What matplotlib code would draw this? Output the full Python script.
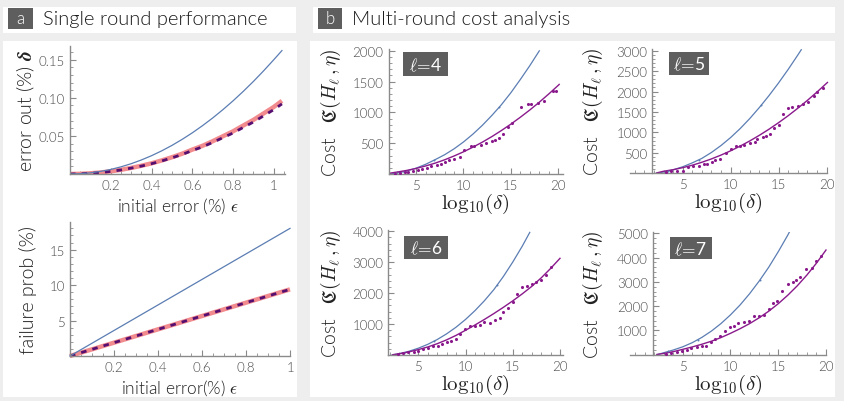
import matplotlib
matplotlib.use("Agg")
import matplotlib.pyplot as plt
from matplotlib.patches import Rectangle
from matplotlib.ticker import MultipleLocator, FixedLocator

plt.rcParams['font.family'] = ['Lato', 'DejaVu Sans']
plt.rcParams['mathtext.fontset'] = 'cm'

W, H = 844, 402
LIGHT = 300

# ---- panel a data ----
eps_top = [0, 0.05, 0.1, 0.15, 0.2, 0.25, 0.3, 0.35, 0.4, 0.45, 0.5, 0.55,
           0.6, 0.65, 0.7, 0.75, 0.8, 0.85, 0.9, 0.95, 1.0, 1.04]
delta_blue = [0, 0.0004, 0.0015, 0.0034, 0.006, 0.0094, 0.0135, 0.0184, 0.024, 0.0304, 0.0375, 0.0454,
              0.054, 0.0634, 0.0735, 0.0844, 0.096, 0.1084, 0.1215, 0.1354, 0.150, 0.162]
delta_red = [0, 0.0002, 0.0009, 0.002, 0.0035, 0.0055, 0.008, 0.0108, 0.014, 0.0178, 0.022, 0.0266,
             0.032, 0.037, 0.043, 0.0495, 0.056, 0.0636, 0.071, 0.0795, 0.088, 0.096]
delta_dash = [0, 0.0002, 0.0009, 0.0019, 0.0034, 0.0053, 0.0077, 0.0104, 0.0135, 0.0171, 0.0212, 0.0256,
              0.0308, 0.0356, 0.0414, 0.0476, 0.0538, 0.0611, 0.0682, 0.0763, 0.0845, 0.092]

eps_bot = [0, 0.5, 1.0]
fail_blue = [0, 9.0, 18.0]
fail_red = [0, 4.7, 9.4]
fail_dash = [0, 4.7, 9.4]

# ---- panel b data ----
levels = [4, 5, 6, 7]
blue_x = {
    4: [2.2, 3, 4, 5, 6, 7, 8, 9, 10, 11, 12, 13, 13.8, 14, 15, 16, 17, 18],
    5: [2.2, 3, 4, 5, 6, 7, 8, 9, 10, 11, 12, 13, 13.2, 14, 15, 16, 17, 17.37],
    6: [2.2, 3, 4, 5, 6, 7, 8, 9, 10, 11, 12, 13, 14, 15, 16, 16.8],
    7: [2.3, 3, 4, 5, 6, 7, 8, 9, 10, 11, 12, 13, 14, 15, 16, 16.3],
}
blue_y = {
    4: [0, 15, 48, 95, 157, 232, 312, 408, 520, 648, 792, 952, 1090, 1125, 1320, 1535, 1760, 2000],
    5: [0, 30, 85, 160, 255, 365, 510, 680, 875, 1095, 1340, 1610, 1667, 1900, 2210, 2540, 2890, 3023],
    6: [0, 45, 120, 220, 345, 500, 685, 900, 1150, 1435, 1755, 2115, 2535, 3005, 3515, 3963],
    7: [0, 80, 192, 325, 496, 712, 972, 1281, 1640, 2046, 2510, 3030, 3600, 4240, 4925, 5150],
}
blue_mark_x = {4: [3.7, 6.9, 13.8], 5: [3.5, 6.7, 13.2], 6: [3.5, 6.65, 13.35], 7: [3.5, 6.6, 13.1]}
blue_mark_y = {4: [38, 225, 1090], 5: [55, 330, 1670], 6: [80, 440, 2270], 7: [140, 620, 3090]}

fit_x = {
    4: [2.3, 3, 4, 5, 6, 7, 8, 9, 10, 11, 12, 13, 14, 15, 16, 17, 18, 19, 20, 20.1],
    5: [2.3, 3, 4, 5, 6, 7, 8, 9, 10, 11, 12, 13, 14, 15, 16, 17, 18, 19, 20, 20.1],
    6: [2.3, 3, 4, 5, 6, 7, 8, 9, 10, 11, 12, 13, 14, 15, 16, 17, 18, 19, 20],
    7: [2.3, 3, 4, 5, 6, 7, 8, 9, 10, 11, 12, 13, 14, 15, 16, 17, 18, 19, 20],
}
fit_y = {
    4: [15, 32, 58, 90, 130, 176, 230, 292, 360, 436, 518, 608, 706, 810, 922, 1040, 1166, 1300, 1440, 1455],
    5: [10, 50, 88, 138, 198, 270, 352, 446, 550, 666, 792, 930, 1078, 1238, 1408, 1590, 1782, 1986, 2200, 2222],
    6: [10, 40, 100, 175, 260, 365, 490, 635, 800, 970, 1150, 1340, 1540, 1750, 1975, 2215, 2490, 2795, 3125],
    7: [10, 50, 125, 220, 320, 430, 555, 705, 880, 1070, 1280, 1520, 1790, 2100, 2450, 2840, 3280, 3770, 4310],
}

pts_x = {
    4: [2.8, 3.3, 3.8, 4.2, 4.7, 5.2, 5.6, 6.1, 6.6, 7.2, 7.6, 8.0, 8.5, 9.0, 9.6, 10.1, 10.8,
        11.1, 11.8, 12.4, 13.0, 13.3, 13.8, 14.2, 14.7, 15.1, 16.1, 16.8, 17.1, 17.9, 18.5, 19.4, 19.8],
    5: [3.3, 3.8, 4.4, 5.0, 5.6, 6.1, 6.7, 7.2, 7.5, 8.1, 8.4, 8.9, 9.5, 10.0, 10.6, 11.0, 11.4,
        12.0, 12.5, 12.8, 13.4, 13.7, 14.1, 14.5, 15.0, 15.5, 16.0, 16.4, 17.0, 17.6, 18.1, 18.7, 19.0, 19.6],
    6: [2.9, 3.4, 3.9, 4.5, 5.0, 5.5, 6.0, 6.6, 7.1, 7.5, 8.0, 8.5, 9.0, 9.4, 9.9, 10.5, 11.0,
        11.5, 12.0, 12.6, 13.1, 13.6, 14.0, 14.5, 15.0, 15.5, 16.0, 16.5, 17.0, 17.5, 18.0, 18.5, 19.0],
    7: [3.3, 3.8, 4.4, 4.9, 5.4, 5.9, 6.5, 7.0, 7.4, 8.0, 8.4, 8.9, 9.4, 9.9, 10.4, 10.8, 11.4,
        11.9, 12.5, 13.0, 13.5, 14.0, 14.5, 14.9, 15.4, 16.0, 16.5, 16.9, 17.3, 17.9, 18.5, 19.0, 19.5],
}
pts_y = {
    4: [5, 10, 25, 35, 55, 60, 80, 100, 125, 150, 160, 190, 220, 240, 280, 395, 450,
        450, 475, 500, 540, 545, 578, 650, 760, 830, 1090, 1130, 1130, 1160, 1190, 1340, 1340],
    5: [25, 55, 65, 65, 145, 170, 190, 220, 230, 285, 335, 350, 500, 595, 660, 675, 700,
        740, 775, 840, 880, 920, 955, 1100, 1180, 1450, 1590, 1615, 1640, 1695, 1735, 1900, 1980, 2080],
    6: [30, 65, 85, 110, 140, 195, 215, 280, 300, 355, 410, 465, 515, 680, 840, 950, 925,
        970, 1055, 1035, 1140, 1185, 1380, 1510, 1700, 1970, 2190, 2240, 2295, 2350, 2435, 2590, 2835],
    7: [30, 70, 95, 165, 205, 260, 300, 360, 370, 535, 645, 755, 990, 1125, 1195, 1305, 1360,
        1400, 1580, 1610, 1635, 1880, 2130, 2225, 2640, 2910, 3010, 3075, 3185, 3530, 3560, 3870, 4080],
}

BLUE = '#5b7db3'
PURPLE = '#8a1a8c'
RED = '#f28b8e'
DARK = '#560f70'
GRAY = '#5e5e5e'
AXC = '#8a8a8a'
TXT = '#4a4a4a'
LABC = '#222222'

fig = plt.figure(figsize=(W / 100, H / 100), dpi=100)
fig.patch.set_facecolor('#eeeeee')


def box(l, t, r, b, color):
    fig.add_artist(Rectangle((l / W, 1 - b / H), (r - l) / W, (b - t) / H,
                             transform=fig.transFigure, facecolor=color,
                             edgecolor='none', zorder=0))


def px_axes(l, t, r, b):
    ax = fig.add_axes([l / W, 1 - b / H, (r - l) / W, (b - t) / H])
    ax.patch.set_alpha(0)
    for s in ['top', 'right']:
        ax.spines[s].set_visible(False)
    for s in ['left', 'bottom']:
        ax.spines[s].set_color(AXC)
        ax.spines[s].set_linewidth(1.0)
    ax.tick_params(which='both', direction='in', colors=AXC, labelcolor=TXT, labelsize=9.5)
    ax.tick_params(which='major', length=4)
    ax.tick_params(which='minor', length=2)
    return ax


def ticks(ax, xt, xl, yt, yl):
    ax.xaxis.set_major_locator(FixedLocator(xt))
    ax.set_xticklabels(xl, fontweight=LIGHT)
    ax.yaxis.set_major_locator(FixedLocator(yt))
    ax.set_yticklabels(yl, fontweight=LIGHT)


# panel backgrounds
box(3, 8, 296, 34, 'white')
box(3, 42, 297, 398, 'white')
box(313, 8, 835, 34, 'white')
box(310, 42, 835, 398, 'white')
box(8, 9, 33, 30, GRAY)
box(318, 9, 342, 30, GRAY)
fig.text(20.5 / W, 1 - 19.5 / H, 'a', color='white', fontsize=12, ha='center', va='center', fontweight=LIGHT)
fig.text(330 / W, 1 - 19.5 / H, 'b', color='white', fontsize=12, ha='center', va='center', fontweight=LIGHT)
fig.text(43 / W, 1 - 20 / H, 'Single round performance', color='#1a1a1a', fontsize=14.5,
         ha='left', va='center', fontweight=LIGHT)
fig.text(352 / W, 1 - 20 / H, 'Multi-round cost analysis', color='#1a1a1a', fontsize=14.5,
         ha='left', va='center', fontweight=LIGHT)

# ---- panel a, top ----
ax = px_axes(70, 47, 285, 175)
ax.plot(eps_top, delta_red, color=RED, lw=3.2, solid_capstyle='butt')
ax.plot(eps_top, delta_dash, color=DARK, lw=2.0, dashes=(2, 2.2))
ax.plot(eps_top, delta_blue, color=BLUE, lw=0.9)
ax.set_xlim(0, 1.055)
ax.set_ylim(0, 0.168)
ticks(ax, [0.2, 0.4, 0.6, 0.8, 1.0], ['0.2', '0.4', '0.6', '0.8', '1'],
      [0.05, 0.10, 0.15], ['0.05', '0.10', '0.15'])
ax.xaxis.set_minor_locator(MultipleLocator(0.05))
ax.yaxis.set_minor_locator(MultipleLocator(0.01))
ax.set_xlabel(r'initial error (%) $\epsilon$', fontsize=12.5, color=LABC, labelpad=3, fontweight=LIGHT)
ax.set_ylabel(r'error out (%) $\boldsymbol{\delta}$', fontsize=14, color=LABC, fontweight=LIGHT)
ax.yaxis.set_label_coords(-0.155, 0.5)

# ---- panel a, bottom ----
ax = px_axes(70, 223, 290, 357)
ax.plot(eps_bot, fail_red, color=RED, lw=3.2, solid_capstyle='butt', clip_on=False)
ax.plot(eps_bot, fail_dash, color=DARK, lw=2.0, dashes=(2, 2.2), clip_on=False)
ax.plot(eps_bot, fail_blue, color=BLUE, lw=0.9, clip_on=False)
ax.set_xlim(0, 1.0)
ax.set_ylim(0, 18.9)
ticks(ax, [0.2, 0.4, 0.6, 0.8, 1.0], ['0.2', '0.4', '0.6', '0.8', '1'],
      [5, 10, 15], ['5', '10', '15'])
ax.xaxis.set_minor_locator(MultipleLocator(0.05))
ax.yaxis.set_minor_locator(MultipleLocator(1))
ax.set_xlabel(r'initial error(%) $\epsilon$', fontsize=12.5, color=LABC, labelpad=3, fontweight=LIGHT)
ax.set_ylabel('failure prob (%)', fontsize=14, color=LABC, fontweight=LIGHT)
ax.yaxis.set_label_coords(-0.15, 0.5)

# ---- panel b ----
layout = {
    4: dict(rect=(388.5, 50, 563, 175), xlim=(2.09, 20.5), ylim=(0, 2030), spine=None,
            ymaj=500, ymin=100, lab=(403, 53, 448, 77), ylx=-0.26),
    5: dict(rect=(629.5, 50, 826.5, 174.3), xlim=(-0.55, 20.0), ylim=(0, 3040), spine=1.8,
            ymaj=500, ymin=100, lab=(669, 53, 709, 76), ylx=-0.125),
    6: dict(rect=(388.3, 231, 563.3, 356), xlim=(1.82, 20.35), ylim=(0, 4040), spine=None,
            ymaj=1000, ymin=200, lab=(404, 237, 448, 260), ylx=-0.26),
    7: dict(rect=(630, 233.3, 826, 355.7), xlim=(-0.52, 20.0), ylim=(0, 5040), spine=1.85,
            ymaj=1000, ymin=200, lab=(670, 238, 712, 260), ylx=-0.128),
}

for lv in levels:
    cfg = layout[lv]
    l, t, r, b = cfg['rect']
    ax = px_axes(l, t, r, b)
    ax.plot(blue_x[lv], blue_y[lv], color=BLUE, lw=0.9)
    ax.scatter(blue_mark_x[lv], blue_mark_y[lv], s=2, color=BLUE, zorder=3, linewidths=0)
    ax.plot(fit_x[lv], fit_y[lv], color=PURPLE, lw=1.0, clip_on=False)
    ax.scatter(pts_x[lv], pts_y[lv], s=5, color=PURPLE, zorder=3, linewidths=0)
    ax.set_xlim(*cfg['xlim'])
    ax.set_ylim(*cfg['ylim'])
    if cfg['spine'] is not None:
        ax.spines['left'].set_position(('data', cfg['spine']))
    yt = list(range(cfg['ymaj'], int(cfg['ylim'][1]) + 1, cfg['ymaj']))
    ticks(ax, [5, 10, 15, 20], ['5', '10', '15', '20'], yt, [str(v) for v in yt])
    ax.xaxis.set_minor_locator(MultipleLocator(1))
    ax.yaxis.set_minor_locator(MultipleLocator(cfg['ymin']))
    ax.set_xlabel(r'$\mathrm{log}_{10}(\delta)$', fontsize=15, color='#222222', labelpad=0)
    ax.set_ylabel(r'Cost   $\mathfrak{C}(H_\ell\,,\eta)$', fontsize=14, color=LABC, fontweight=LIGHT)
    ax.yaxis.set_label_coords(cfg['ylx'], 0.5)
    # level tag
    bl, bt, br, bb = cfg['lab']
    box(bl, bt, br, bb, GRAY)
    fig.text((bl + br) / 2 / W, 1 - (bt + bb) / 2 / H, r'$\ell\!=\!$' + str(lv), color='white',
             fontsize=12.5, ha='center', va='center', zorder=5)

fig.savefig('out.png', dpi=100, facecolor=fig.get_facecolor())
